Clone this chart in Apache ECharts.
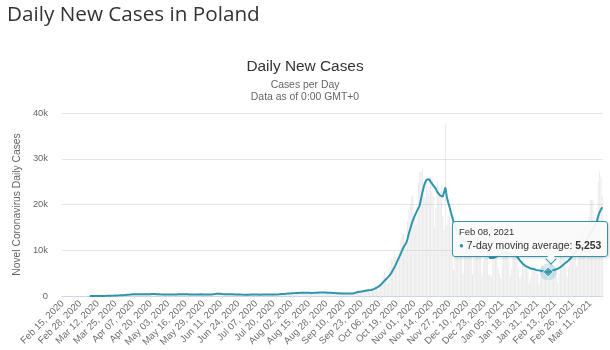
<!DOCTYPE html>
<html>
<head>
<meta charset="utf-8">
<script src="https://cdn.jsdelivr.net/npm/echarts@6.0.0/dist/echarts.min.js"></script>
<style>
html,body{margin:0;padding:0;background:#fff;}
#chart{width:610px;height:350px;}
</style>
</head>
<body>
<div id="chart"></div>
<script>
// ---- Data ----
const pageTitle = 'Daily New Cases in Poland';
const chartTitle = 'Daily New Cases';
const chartSubtitle1 = 'Cases per Day';
const chartSubtitle2 = 'Data as of 0:00 GMT+0';
const yAxisName = 'Novel Coronavirus Daily Cases';
const seriesName = '7-day moving average';
const monthNames = ['Jan','Feb','Mar','Apr','May','Jun','Jul','Aug','Sep','Oct','Nov','Dec'];
const firstDay = {year: 2020, month: 1, day: 15}; // Feb 15, 2020
const highlightDate = 'Feb 08, 2021';
const yTicks = [0, 10000, 20000, 30000, 40000];

// daily new cases (bars)
const dailyFeb20 = [0,0,0,0,0,0,0,0,0,0,0,0,0,0,0];
const dailyMar20 = [0,0,0,1,0,4,1,5,6,5,9,20,17,35,14,52,61,49,70,111,89,98,115,152,150,170,168,249,224,193,256];
const dailyApr20 = [243,392,437,244,475,311,435,357,370,380,401,318,260,268,380,336,461,545,263,545,313,381,263,357,460,342,230,294,348,381];
const dailyMay20 = [285,286,342,271,306,356,307,340,362,330,595,333,358,330,299,270,312,407,283,302,431,275,404,442,266,395,365,216,286,387,379];
const dailyJun20 = [359,293,292,361,576,575,599,575,282,395,336,264,440,407,375,314,305,506,313,370,300,213,263,271,319,301,260,235,230,262];
const dailyJul20 = [371,312,374,243,260,193,262,357,280,289,358,299,290,236,246,316,324,358,321,309,333,337,369,418,584,443,337,512,615,615,657];
const dailyAug20 = [658,548,680,512,640,726,809,843,658,599,587,680,639,726,832,619,548,587,728,811,903,834,695,547,579,820,887,724,753,579,550];
const dailySep20 = [526,597,621,657,656,487,360,424,607,600,550,517,458,379,456,600,971,1002,1002,1140,651,749,975,1136,1350,1587,1584,1306,757,1326];
const dailyOct20 = [1552,1237,1367,1934,1306,1586,2236,3003,4280,5300,4178,2759,3577,6526,8099,7705,9622,8536,7482,9291,10040,12107,13632,13628,11742,10241,16300,18820,20156,21629,21897];
const dailyNov20 = [17171,15578,19364,24692,27143,27086,27875,24785,21713,25221,22683,22464,26096,25571,21854,15002,19152,25047,23975,22683,24213,17589,14419,37500,15362,17395,17347,15002,10139,5733];
const dailyDec20 = [12025,13855,14680,13210,12545,11265,4896,9100,12838,13115,13260,10944,8977,4633,7962,12366,12457,12026,11290,9107,4586,7693,12167,12049,9000,4500,4800,4200,7802,13397,12781];
const dailyJan21 = [9000,6000,5000,3977,7096,12000,12900,13000,12000,7700,4500,5900,10500,10200,9400,9000,6000,3900,4700,6900,7000,6600,6300,5300,2800,4000,6200,6600,6100,5600,4800];
const dailyFeb21 = [2500,3900,6800,6500,6200,5700,4500,3100,3900,7900,7000,6500,6100,5200,2900,4900,8700,8600,8300,8100,6500,4300,6300,12000,12100,12100,11500,9000];
const dailyMar21 = [6400,7900,15700,15250,15800,14900,11900,7900,10900,17250,21050,21050,21050,17260,10900,14400,25050,27280,26000,21850];

// 7-day moving average (line)
const maFeb20 = [null,null,null,null,null,null,null,null,null,null,null,null,null,null,null];
const maMar20 = [null,null,null,null,null,1,1,2,3,4,5,7,10,14,15,22,30,35,43,56,64,76,85,99,113,127,135,157,175,189,204];
const maApr20 = [216,249,287,286,322,339,362,378,375,367,389,366,363,353,356,351,363,387,379,419,426,427,417,402,390,401,356,352,347,350];
const maMay20 = [340,318,318,324,326,327,321,323,334,332,375,379,379,382,376,363,360,333,326,318,332,329,348,367,346,362,371,340,341,338,333];
const maJun20 = [346,332,322,342,383,410,441,472,470,485,481,436,417,390,360,365,353,377,384,374,373,350,343,338,311,309,294,285,288,286];
const maJul20 = [300,299,309,306,310,305,305,303,299,286,303,308,322,318,302,307,312,312,315,318,332,345,352,366,399,416,420,446,486,521,555];
const maAug20 = [565,580,628,628,632,648,670,697,713,702,713,719,707,695,693,687,680,680,687,712,737,737,748,748,747,760,771,745,733,716,716];
const maSep20 = [708,676,638,628,614,601,572,557,559,556,541,521,517,520,524,523,576,640,709,870,909,951,1004,1028,1075,1158,1158,1250,1251,1302];
const maOct20 = [1400,1500,1650,1800,1950,2150,2400,2700,3000,3350,3650,3950,4250,4600,5050,5550,6100,6700,7350,8000,8600,9250,10000,10650,11150,11600,12500,13700,14700,15700,16600];
const maNov20 = [17300,18000,18400,19200,19800,21300,22700,23900,24800,25400,25800,25500,25000,24600,24200,23800,23400,22700,22400,22000,22200,21700,21500,23700,21700,20500,19500,18300,17300,16200];
const maDec20 = [15300,14500,13900,13300,12900,12600,12400,12100,11900,11700,11700,11500,11200,11100,10900,10800,10700,10500,10500,10500,10500,10400,10400,10300,9800,8900,8300,8200,8300,8400,8500];
const maJan21 = [8600,8900,9200,9300,9400,9400,9500,9500,9400,9300,9300,9200,9000,8800,8700,8600,8200,7800,7500,7100,6800,6600,6400,6300,6100,6000,5900,5900,5800,5700,5650];
const maFeb21 = [5600,5550,5480,5400,5340,5290,5260,5253,5320,5450,5550,5650,5750,5850,5950,6100,6300,6550,6800,7050,7300,7550,7750,7950,8400,8900,9300,9600];
const maMar21 = [9900,10200,10500,10700,10900,11300,11800,12200,12600,13100,13700,14100,14500,15100,15600,16400,17500,18300,18900,19400];

// ---- Build series ----
const dailyCases = [].concat(dailyFeb20,dailyMar20,dailyApr20,dailyMay20,dailyJun20,dailyJul20,dailyAug20,dailySep20,dailyOct20,dailyNov20,dailyDec20,dailyJan21,dailyFeb21,dailyMar21);
const movingAvg = [].concat(maFeb20,maMar20,maApr20,maMay20,maJun20,maJul20,maAug20,maSep20,maOct20,maNov20,maDec20,maJan21,maFeb21,maMar21);

const categories = [];
for (let i = 0; i < dailyCases.length; i++) {
  const d = new Date(Date.UTC(firstDay.year, firstDay.month, firstDay.day + i));
  categories.push(monthNames[d.getUTCMonth()] + ' ' + String(d.getUTCDate()).padStart(2,'0') + ', ' + d.getUTCFullYear());
}
const hiIdx = categories.indexOf(highlightDate);

const LINE = '#2f95ae';
const FONT = '"Liberation Sans", Arial, sans-serif';

const chart = echarts.init(document.getElementById('chart'), null, {renderer: 'canvas'});
chart.setOption({
  animation: false,
  textStyle: {fontFamily: FONT},
  title: [
    {text: pageTitle, left: 2, top: 0, textStyle: {fontFamily: '"Open Sans", sans-serif', fontSize: 20.7, fontWeight: 'normal', color: '#333'}},
    {text: chartTitle, left: 'center', top: 54, padding: [5, 0, 5, 9], textStyle: {fontFamily: FONT, fontSize: 15.4, fontWeight: 'normal', color: '#333'}},
    {text: chartSubtitle1, left: 'center', top: 75, padding: [5, 0, 5, 9], textStyle: {fontFamily: FONT, fontSize: 10.4, fontWeight: 'normal', color: '#666'}},
    {text: chartSubtitle2, left: 'center', top: 87, padding: [5, 0, 5, 9], textStyle: {fontFamily: FONT, fontSize: 10.4, fontWeight: 'normal', color: '#666'}}
  ],
  grid: {left: 62, right: 7, top: 113, bottom: 54, containLabel: false},
  tooltip: {
    show: true,
    trigger: 'item',
    triggerOn: 'none',
    alwaysShowContent: true,
    position: function () { return [452, 221]; },
    backgroundColor: 'rgba(250,250,250,0.93)',
    borderColor: LINE,
    borderWidth: 1,
    padding: [3, 6],
    extraCssText: 'border-radius:3px;box-shadow:1px 1px 3px rgba(0,0,0,0.18);overflow:visible;',
    formatter: function (p) {
      const v = p.value[1];
      return '<div style="position:relative;font-family:' + FONT.replace(/"/g, "'") + ';">' +
        '<div style="font-size:9.4px;line-height:13px;color:#333;">' + p.name + '</div>' +
        '<div style="font-size:10.4px;line-height:15px;color:#333;white-space:nowrap;">' +
        '<span style="color:' + LINE + ';font-size:8px;vertical-align:1px;">\u25CF</span> ' + seriesName + ': <b>' + v.toLocaleString('en-US') + '</b></div>' +
        '<div style="position:absolute;left:88px;bottom:-10px;width:7px;height:7px;background:rgba(250,250,250,1);border-right:1px solid ' + LINE + ';border-bottom:1px solid ' + LINE + ';transform:rotate(45deg);"></div>' +
        '</div>';
    }
  },
  xAxis: {
    type: 'category',
    data: categories,
    boundaryGap: true,
    axisLine: {show: true, lineStyle: {color: '#ccd6eb', width: 1}},
    axisTick: {show: false},
    axisLabel: {interval: 12, rotate: 45, fontSize: 9.7, color: '#707070', margin: 6, fontFamily: FONT},
    splitLine: {show: false}
  },
  yAxis: {
    type: 'value',
    min: yTicks[0],
    max: yTicks[yTicks.length - 1],
    interval: yTicks[1] - yTicks[0],
    name: yAxisName,
    nameLocation: 'middle',
    nameRotate: 90,
    nameGap: 29,
    nameTextStyle: {fontSize: 10.3, color: '#666', fontFamily: FONT},
    axisLine: {show: false},
    axisTick: {show: false},
    axisLabel: {fontSize: 9.4, color: '#666', margin: 14, fontFamily: FONT,
      formatter: function (v) { return v === 0 ? '0' : (v / 1000) + 'k'; }},
    splitLine: {lineStyle: {color: '#e6e6e6', width: 1}}
  },
  series: [
    {
      name: 'Daily Cases', type: 'bar', data: dailyCases, barWidth: 1,
      itemStyle: {color: 'rgba(200,200,200,0.38)'},
      emphasis: {disabled: true}, silent: true, z: 1
    },
    {
      name: seriesName, type: 'line', data: movingAvg, showSymbol: false, symbol: 'none',
      lineStyle: {color: LINE, width: 2}, itemStyle: {color: LINE},
      emphasis: {disabled: true}, silent: true, z: 3
    },
    {
      name: 'halo', type: 'scatter', data: [[highlightDate, movingAvg[hiIdx]]],
      symbol: 'circle', symbolSize: 17, itemStyle: {color: 'rgba(47,149,174,0.25)'},
      emphasis: {disabled: true}, silent: true, z: 4, tooltip: {show: false}
    },
    {
      name: seriesName, type: 'scatter', data: [[highlightDate, movingAvg[hiIdx]]],
      symbol: 'diamond', symbolSize: 10,
      itemStyle: {color: LINE, borderColor: '#ffffff', borderWidth: 1},
      emphasis: {disabled: true}, z: 5
    }
  ]
});
chart.dispatchAction({type: 'showTip', seriesIndex: 3, dataIndex: 0});
</script>
</body>
</html>
